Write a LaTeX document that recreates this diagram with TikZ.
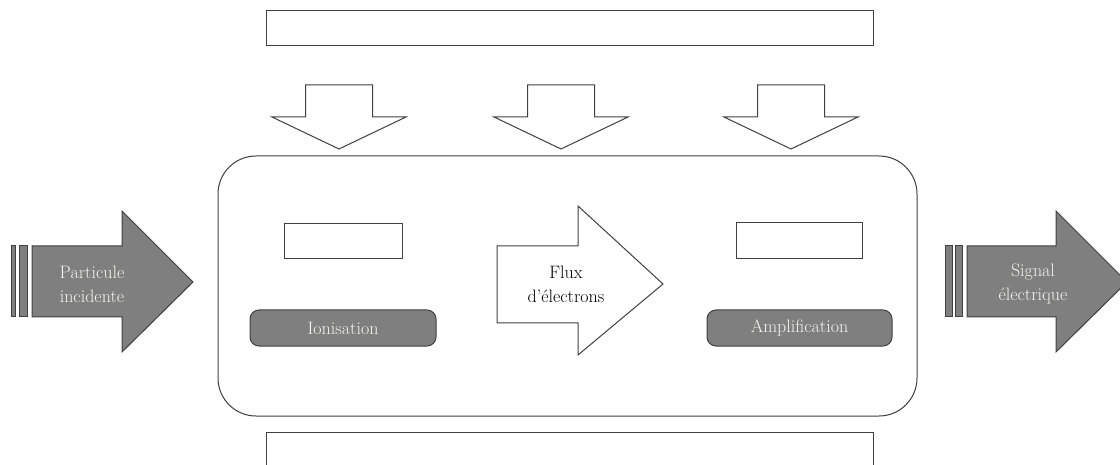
\documentclass[tikz,border=0pt]{standalone}
\usepackage{fontspec}
\usepackage{xcolor}
\usepackage{tikz}

\definecolor{trait}{HTML}{404040}
\definecolor{gris}{HTML}{7F7F7F}
\definecolor{clair}{HTML}{F5F5EC}

\begin{document}
\begin{tikzpicture}[x=1pt,y=-1pt,line width=1pt,
	contour/.style={draw=trait,fill=white},
	plein/.style={draw=trait,fill=gris},
	texte/.style={align=center,font=\fontsize{18}{24}\selectfont},
	etape/.style={plein,rounded corners=9pt}]
			\useasboundingbox (0,0) rectangle (1120,465);
			% Cadres du haut et du bas
			\draw [contour] (266,11) rectangle (873,46);
			\draw [trait] (266,470) -- (266,432) -- (873,432) -- (873,470);
			% Flèches vers le bas
			\foreach \x in {339,561,791}
			\draw [contour] (\x-33.5,85) -- (\x+33.5,85) -- (\x+33.5,117) -- (\x+67,117)
				-- (\x,149) -- (\x-67,117) -- (\x-33.5,117) -- cycle;
			% Détecteur
			\draw [contour,rounded corners=38pt] (218,156) rectangle (917,416);
			\draw [contour] (284,224) rectangle (402,259);
			\draw [contour] (736,223) rectangle (862,259);
			\draw [etape] (250,310) rectangle (436,346);
			\draw (343,328) node [texte,text=clair] (ionisation) {Ionisation};
			\draw [etape] (707,310) rectangle (892,346);
			\draw (799.5,328) node [texte,text=clair] (amplification) {Amplification};
			\draw [contour] (497,246) -- (578,246) -- (578,206) -- (663,284)
				-- (578,355) -- (578,323) -- (497,323) -- cycle;
			\draw (566,284) node [texte] (flux) {Flux\\d’électrons};
			% Flèche d'entrée
			\fill [plein] (11,246) rectangle (15,317);
			\fill [plein] (19,246) rectangle (27,317);
			\draw [plein] (32,246) -- (122,246) -- (122,211) -- (193,282)
				-- (122,352) -- (122,317) -- (32,317) -- cycle;
			\draw (92,284) node [texte,text=clair] (particule) {Particule\\incidente};
			% Flèche de sortie
			\fill [plein] (945,246) rectangle (952,317);
			\fill [plein] (955,246) rectangle (962,317);
			\draw [plein] (967,246) -- (1056,246) -- (1056,211) -- (1127,282)
				-- (1056,352) -- (1056,317) -- (967,317) -- cycle;
			\draw (1033,284) node [texte,text=clair] (signal) {Signal\\électrique};
\end{tikzpicture}
\end{document}
